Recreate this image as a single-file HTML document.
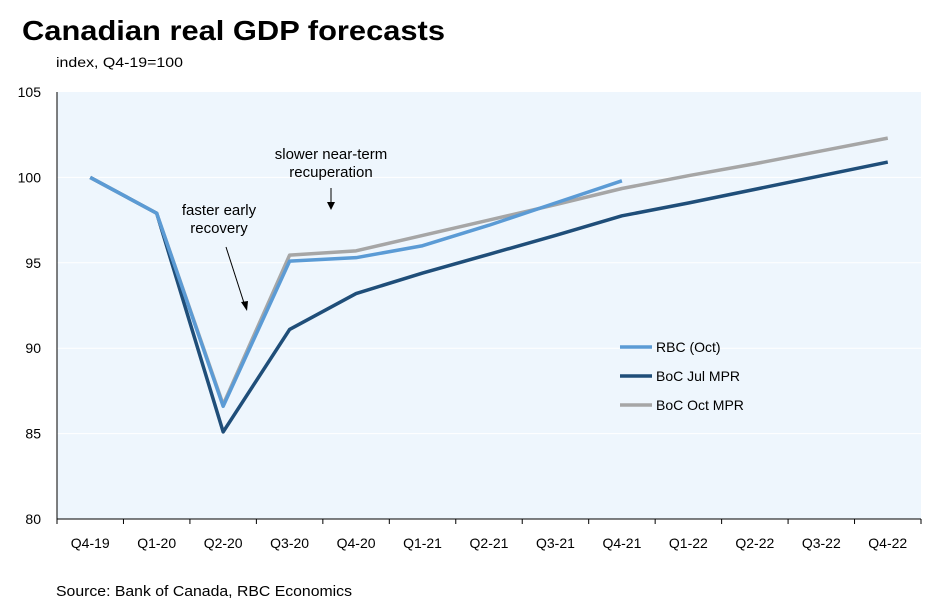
<!DOCTYPE html>
<html><head><meta charset="utf-8"><style>
body{margin:0;background:#fff;width:937px;height:606px;overflow:hidden;font-family:"Liberation Sans","DejaVu Sans",sans-serif}
</style></head><body>
<svg id="c" width="937" height="606" xmlns="http://www.w3.org/2000/svg">
<text x="22" y="40" font-size="28" font-weight="bold" fill="#000" textLength="423" lengthAdjust="spacingAndGlyphs">Canadian real GDP forecasts</text>
<text x="56" y="67" font-size="14" fill="#000" textLength="127" lengthAdjust="spacingAndGlyphs">index, Q4-19=100</text>
<rect x="57" y="92" width="864" height="427" fill="#eef6fd"/>
<g id="grid"></g><g id="axes"></g><g id="series"></g>
<text x="219" y="215" font-size="15" text-anchor="middle">faster early</text>
<text x="219" y="233" font-size="15" text-anchor="middle">recovery</text>
<line x1="226" y1="247" x2="245" y2="306" stroke="#000" stroke-width="1"/>
<polygon points="247,311 241,302 248,301" fill="#000"/>
<text x="331" y="159" font-size="15" text-anchor="middle">slower near-term</text>
<text x="331" y="177" font-size="15" text-anchor="middle">recuperation</text>
<line x1="331" y1="188" x2="331" y2="204" stroke="#000" stroke-width="1"/>
<polygon points="331,210 327,202 335,202" fill="#000"/>
<g id="legend"></g>
<text x="56" y="596" font-size="15" textLength="296" lengthAdjust="spacingAndGlyphs">Source: Bank of Canada, RBC Economics</text>
</svg>
<script>
const categories=["Q4-19","Q1-20","Q2-20","Q3-20","Q4-20","Q1-21","Q2-21","Q3-21","Q4-21","Q1-22","Q2-22","Q3-22","Q4-22"];
const rbcOct=[100,97.9,86.6,95.1,95.3,96.0,97.2,98.5,99.8];
const bocJul=[100,97.9,85.1,91.1,93.2,94.4,95.5,96.6,97.75,98.5,99.3,100.1,100.9];
const bocOct=[100,97.9,86.7,95.45,95.7,96.6,97.5,98.4,99.35,100.1,100.8,101.55,102.3];
const yTicks=[80,85,90,95,100,105];
const seriesNames=["RBC (Oct)","BoC Jul MPR","BoC Oct MPR"];
const NS="http://www.w3.org/2000/svg";
const X0=57,X1=921,Y0=519,Y1=92,cw=(X1-X0)/categories.length;
const xs=i=>X0+cw*(i+0.5);
const ys=v=>Y0-(v-80)/25*(Y0-Y1);
function mk(t,a,p){const e=document.createElementNS(NS,t);for(const k in a)e.setAttribute(k,a[k]);p.appendChild(e);return e;}
const grid=document.getElementById('grid'),axes=document.getElementById('axes');
yTicks.forEach(v=>{
  if(v>80&&v<105){const g=mk('line',{x1:X0,x2:X1,y1:ys(v),y2:ys(v),stroke:'#fff','stroke-width':1},grid);
  
  }
  const t=mk('text',{x:X0-16,y:ys(v)+5,'font-size':14,'text-anchor':'end'},axes);t.textContent=v;
  
  
});
const ax=mk('line',{x1:X0,x2:X0,y1:Y1,y2:Y0,stroke:'#000','stroke-width':1},axes);


const bx=mk('line',{x1:X0,x2:X1,y1:Y0,y2:Y0,stroke:'#000','stroke-width':1},axes);


for(let i=0;i<=categories.length;i++){const tk=mk('line',{x1:X0+cw*i,x2:X0+cw*i,y1:Y0,y2:Y0+5,stroke:'#000'},axes);
  
  }
categories.forEach((c,i)=>{const t=mk('text',{x:xs(i),y:Y0+29,'font-size':14,'text-anchor':'middle'},axes);t.textContent=c;
  
  });
const ser=document.getElementById('series');
const data=[[bocJul,'#1f4e79','boc-jul-line'],[bocOct,'#a6a6a6','boc-oct-line'],[rbcOct,'#5b9bd5','rbc-oct-line']];
data.forEach(d=>{const p=mk('polyline',{points:d[0].map((v,i)=>xs(i)+','+ys(v)).join(' '),fill:'none',stroke:d[1],'stroke-width':3.5,'stroke-linejoin':'round'},ser);
  
  });
const lg=document.getElementById('legend');const lc=['#5b9bd5','#1f4e79','#a6a6a6'];
seriesNames.forEach((n,i)=>{const y=347+29*i;
  const l=mk('line',{x1:620,x2:652,y1:y,y2:y,stroke:lc[i],'stroke-width':3.5},lg);
  
  
  const t=mk('text',{x:656,y:y+5,'font-size':14},lg);t.textContent=n;
  
  });
</script>
</body></html>
